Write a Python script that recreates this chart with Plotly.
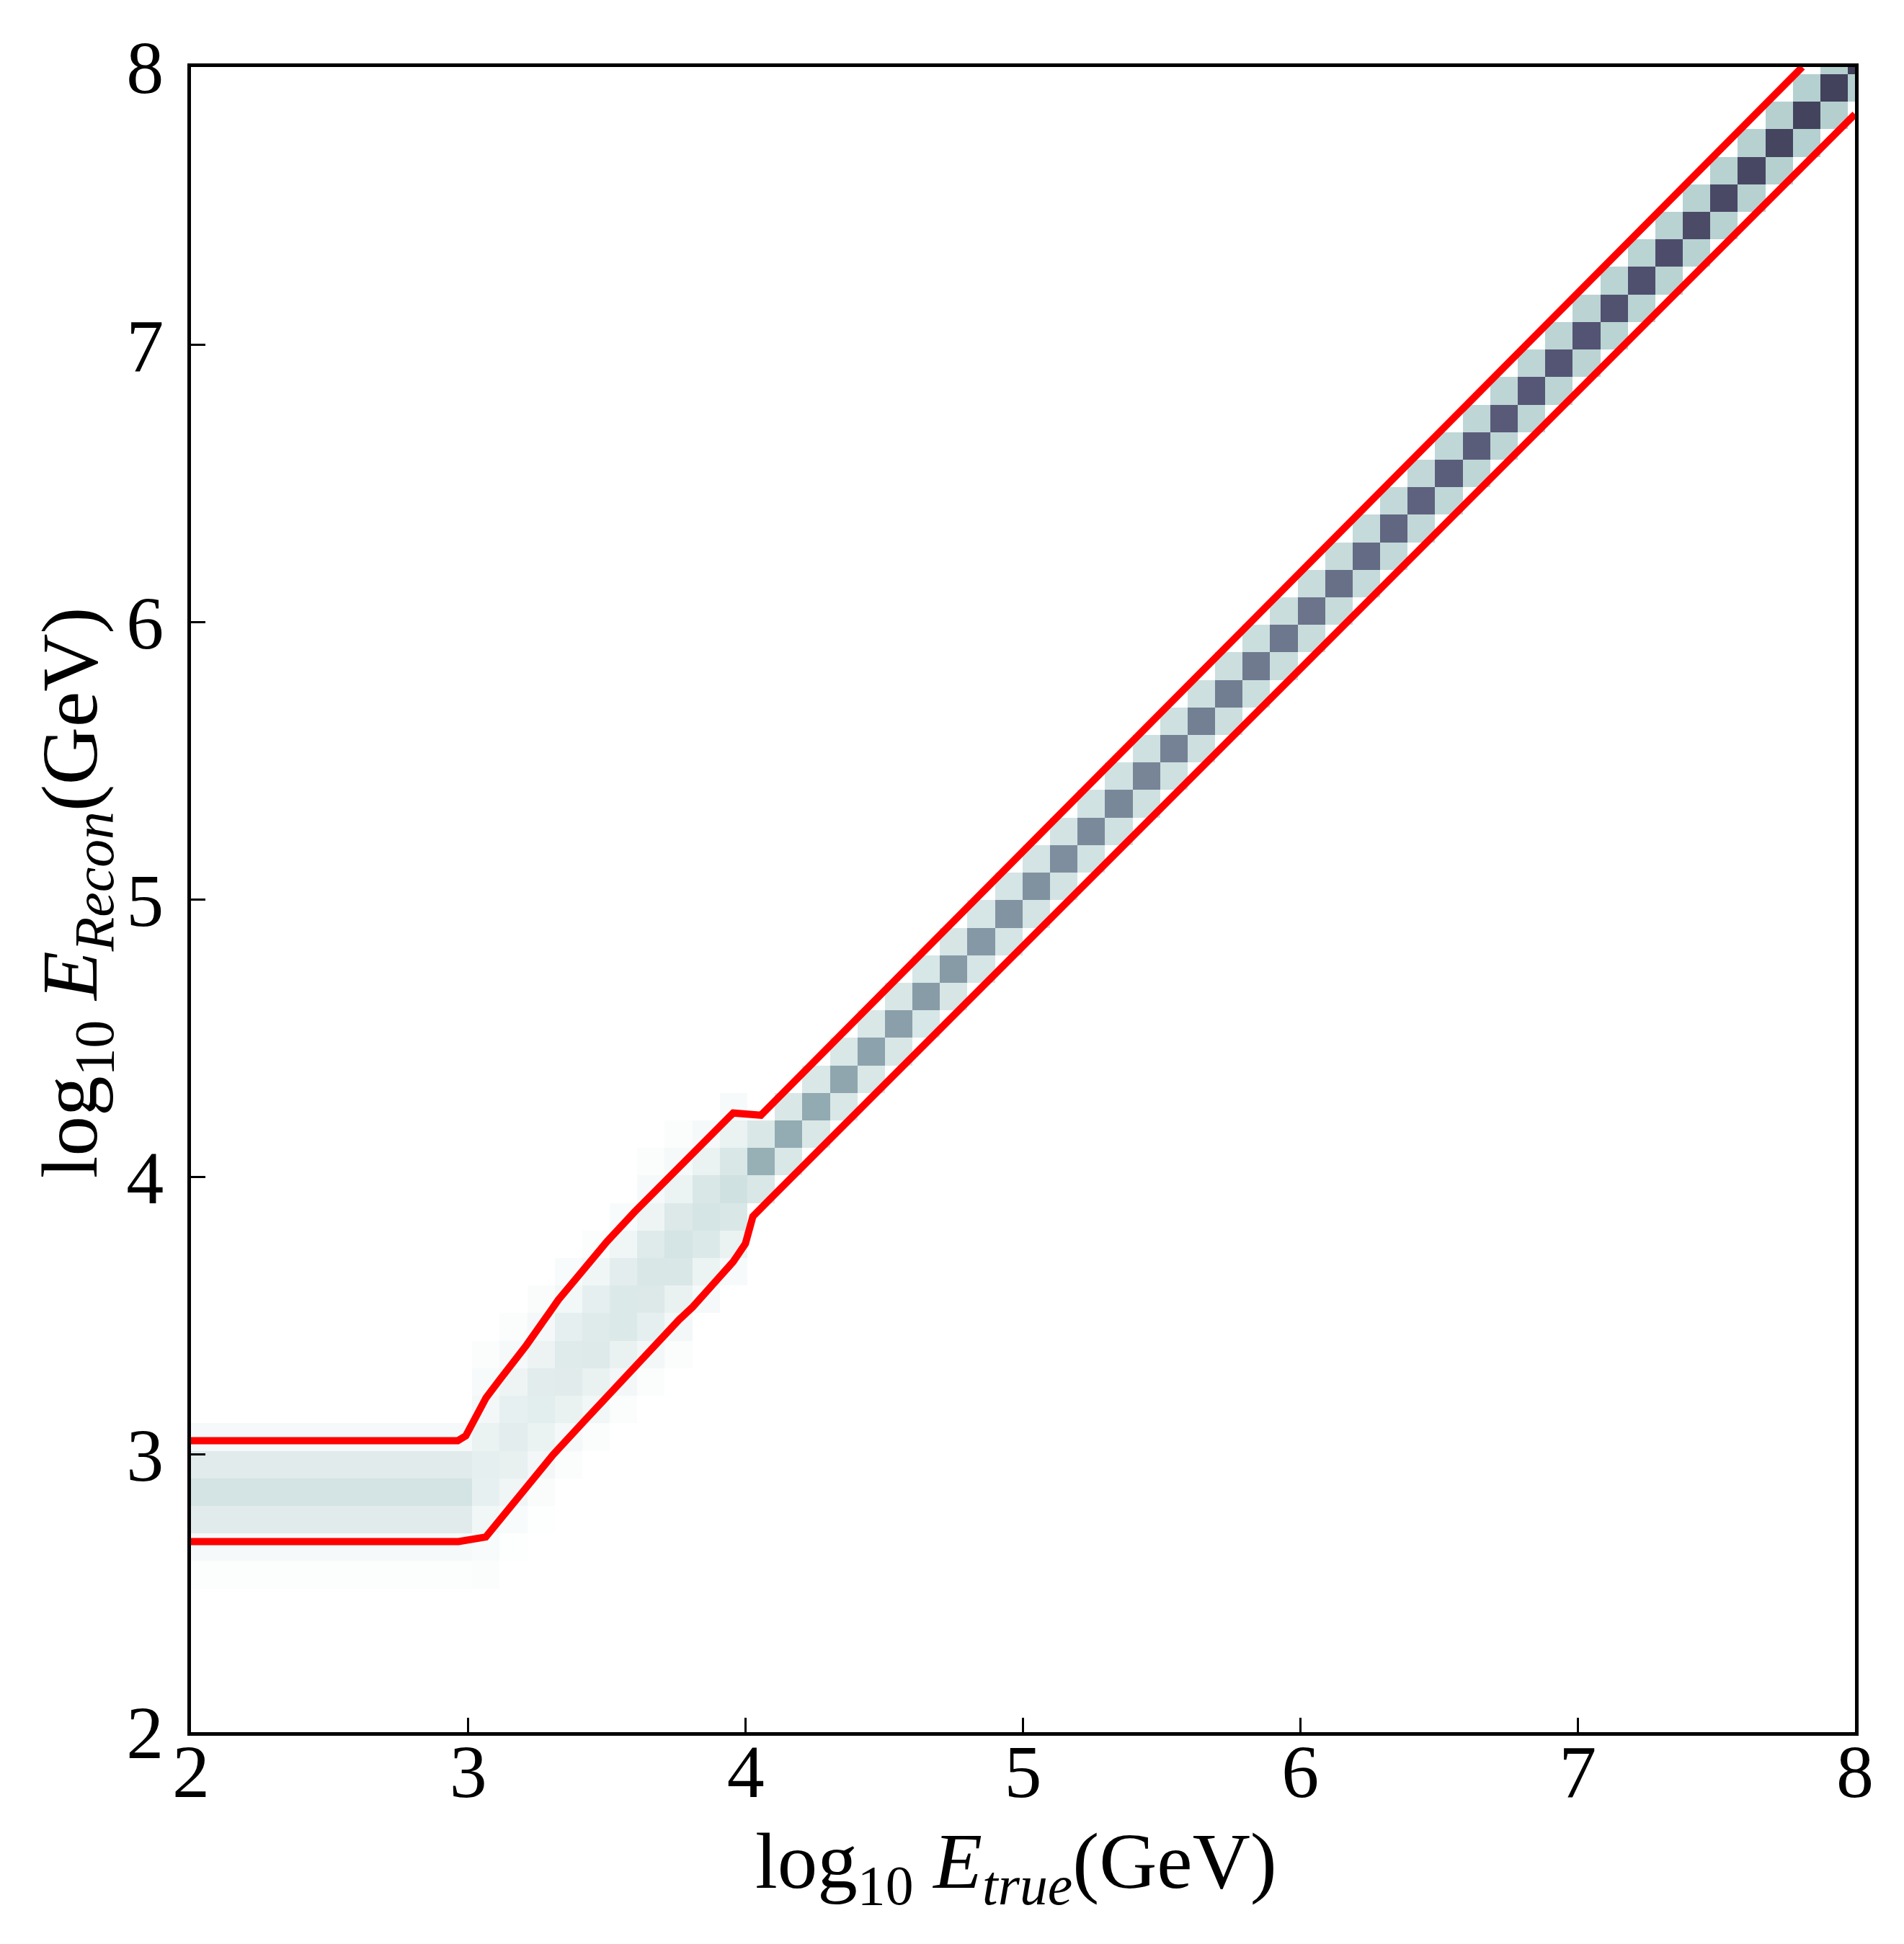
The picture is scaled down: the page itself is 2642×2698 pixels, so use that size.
import numpy as np
import plotly.graph_objects as go

# ---------------- data ----------------
# histogram bin edges in log10(E/GeV) (same for true and reconstructed axes)
bin_start = 1.9228
bin_width = 0.0992
n_bins = 62
bin_edges = [round(bin_start + bin_width * k, 4) for k in range(n_bins + 1)]

# low-energy plateau: columns 0..10 share the same reconstructed distribution
plateau_cols = list(range(0, 11))
plateau_rows = [6, 7, 8, 9, 10, 11]
plateau_vals = [0.008, 0.028, 0.087, 0.123, 0.087, 0.028]

# transition region: column -> (first row, values upward)
transition_first_row = {11: 6, 12: 7, 13: 8, 14: 10, 15: 11, 16: 12, 17: 13, 18: 14, 19: 16, 20: 17}
transition_vals = {
    11: [0.010, 0.020, 0.040, 0.068, 0.071, 0.060, 0.035, 0.022, 0.010],
    12: [0.006, 0.020, 0.043, 0.066, 0.080, 0.068, 0.048, 0.028, 0.012],
    13: [0.006, 0.015, 0.034, 0.060, 0.082, 0.083, 0.052, 0.030, 0.015],
    14: [0.012, 0.032, 0.062, 0.087, 0.090, 0.070, 0.037, 0.020],
    15: [0.012, 0.040, 0.062, 0.094, 0.092, 0.070, 0.042, 0.012],
    16: [0.010, 0.034, 0.064, 0.100, 0.100, 0.080, 0.043, 0.020],
    17: [0.012, 0.034, 0.070, 0.097, 0.108, 0.090, 0.049, 0.025, 0.012],
    18: [0.012, 0.034, 0.062, 0.106, 0.120, 0.097, 0.055, 0.028, 0.012],
    19: [0.028, 0.055, 0.100, 0.120, 0.106, 0.060, 0.028],
    20: [0.022, 0.060, 0.106, 0.134, 0.109, 0.060, 0.022],
}

# high-energy diagonal band: columns 21..61
band_cols = list(range(21, 62))
diag_vals = [0.327, 0.340, 0.345, 0.358, 0.372, 0.381, 0.390, 0.394, 0.403, 0.417,
             0.426, 0.435, 0.448, 0.457, 0.466, 0.475, 0.484, 0.493, 0.502, 0.511,
             0.520, 0.535, 0.550, 0.565, 0.578, 0.592, 0.596, 0.605, 0.614, 0.623,
             0.628, 0.637, 0.646, 0.655, 0.664, 0.672, 0.681, 0.690, 0.699, 0.704,
             0.713]
offdiag_vals = [0.106, 0.106, 0.107, 0.108, 0.109, 0.111, 0.113, 0.115, 0.118, 0.120,
                0.123, 0.126, 0.130, 0.133, 0.137, 0.140, 0.143, 0.146, 0.149, 0.152,
                0.155, 0.160, 0.165, 0.170, 0.175, 0.179, 0.183, 0.186, 0.189, 0.192,
                0.194, 0.196, 0.198, 0.200, 0.202, 0.204, 0.206, 0.208, 0.210, 0.212,
                0.214]

# red contour lines
upper_x = [2.0, 2.962, 2.991, 3.064, 3.111, 3.21, 3.325, 3.405, 3.50, 3.60, 3.705, 3.81, 3.88, 3.955, 4.055, 7.81]
upper_y = [3.05, 3.05, 3.068, 3.205, 3.267, 3.395, 3.558, 3.656, 3.768, 3.875, 3.98, 4.082, 4.152, 4.231, 4.223, 8.0]
lower_x = [2.0, 2.965, 3.063, 3.166, 3.306, 3.42, 3.497, 3.601, 3.653, 3.76, 3.809, 3.955, 3.999, 4.026, 4.087, 8.0]
lower_y = [2.687, 2.687, 2.703, 2.833, 3.0, 3.123, 3.205, 3.322, 3.37, 3.486, 3.532, 3.695, 3.76, 3.858, 3.92, 7.83]

tick_vals = [2, 3, 4, 5, 6, 7, 8]
tick_text = ["2", "3", "4", "5", "6", "7", "8"]

x_title = "log<sub>10</sub> <i>E</i><sub><i>true</i></sub>(GeV)"
y_title = "log<sub>10</sub> <i>E</i><sub><i>Recon</i></sub>(GeV)"

# ---------------- build matrix ----------------
z = np.zeros((n_bins, n_bins))
for c in plateau_cols:
    for r, v in zip(plateau_rows, plateau_vals):
        z[r, c] = v
for c, vals in transition_vals.items():
    r0 = transition_first_row[c]
    for k, v in enumerate(vals):
        z[r0 + k, c] = v
for c, d, o in zip(band_cols, diag_vals, offdiag_vals):
    z[c, c] = d
    if c - 1 >= 0:
        z[c - 1, c] = o
    if c + 1 < n_bins:
        z[c + 1, c] = o

# matplotlib 'bone_r'
bone_r = [[0.0, "rgb(255,255,255)"],
          [0.253968, "rgb(166,198,198)"],
          [0.634921, "rgb(81,81,113)"],
          [1.0, "rgb(0,0,0)"]]

fig = go.Figure()
fig.add_trace(go.Heatmap(x=bin_edges, y=bin_edges, z=z, colorscale=bone_r,
                         zmin=0, zmax=1, showscale=False, zsmooth=False,
                         hoverinfo="skip"))
fig.add_trace(go.Scatter(x=upper_x, y=upper_y, mode="lines",
                         line=dict(color="#ff0000", width=10), showlegend=False))
fig.add_trace(go.Scatter(x=lower_x, y=lower_y, mode="lines",
                         line=dict(color="#ff0000", width=10), showlegend=False))

font_family = "Liberation Serif"
axis_common = dict(range=[2, 8], tickmode="array", tickvals=tick_vals, ticktext=tick_text,
                   ticks="inside", ticklen=20, tickwidth=3, tickcolor="black",
                   showline=True, linewidth=5, linecolor="black", mirror=True,
                   showgrid=False, zeroline=False,
                   tickfont=dict(family=font_family, size=104, color="black"))

fig.update_layout(
    width=2642, height=2698,
    margin=dict(l=257, r=76, t=85, b=302),
    paper_bgcolor="white", plot_bgcolor="white",
    showlegend=False,
    xaxis=dict(**axis_common, ticklabelstandoff=-40),
    yaxis=dict(**axis_common, ticklabelstandoff=12),
    annotations=[
        dict(text=x_title, xref="paper", yref="paper", x=0.496, y=-0.0809,
             xanchor="center", yanchor="middle", showarrow=False,
             font=dict(family=font_family, size=111, color="black")),
        dict(text=y_title, xref="paper", yref="paper", x=-0.0697, y=0.504,
             xanchor="center", yanchor="middle", showarrow=False, textangle=-90,
             font=dict(family=font_family, size=111, color="black")),
    ],
)

fig.write_html("out.html")
